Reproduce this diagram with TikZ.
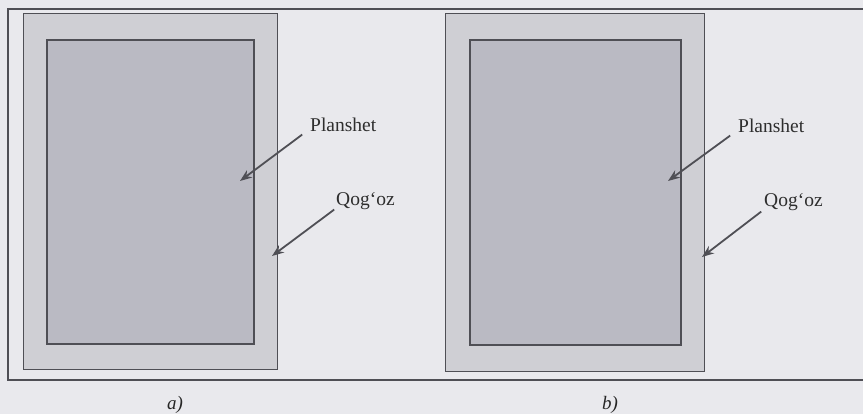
\documentclass[tikz,border=0pt]{standalone}
\usepackage{fontspec}
\setmainfont{Liberation Serif}
\usetikzlibrary{arrows.meta}
\definecolor{bgcol}{HTML}{E9E9ED}
\definecolor{papercol}{HTML}{CFCFD4}
\definecolor{tabcol}{HTML}{BABAC3}
\definecolor{inkcol}{HTML}{4F4F55}
\begin{document}
\begin{tikzpicture}[x=1pt,y=-1pt,
  frame/.style={draw=inkcol, line width=1.2pt},
  paper/.style={draw=inkcol, fill=papercol, line width=1pt},
  tablet/.style={draw=inkcol, fill=tabcol, line width=1.4pt},
  lbl/.style={font=\fontsize{19.5}{22}\selectfont, text=black!82, inner sep=0pt, anchor=base west},
  sublbl/.style={font=\itshape\fontsize{19}{22}\selectfont, text=black!85, inner sep=0pt, anchor=base},
  arr/.style={-{Stealth[length=12pt,width=9pt]}, line width=1.8pt, draw=inkcol, shorten <=1pt},
]
\fill[bgcol] (0,0) rectangle (863,414);
\useasboundingbox (0,0) rectangle (863,414);
\draw[frame] (870,9) -- (8,9) -- (8,380) -- (870,380);
% panel a
\draw[paper] (23,14) rectangle (277,370);
\draw[tablet] (47,40) rectangle (254,344);
\node[lbl] (pa) at (310,132) {Planshet};
\node[lbl] (qa) at (336,206) {Qog‘oz};
\coordinate (pta) at (240,181);
\coordinate (qta) at (272,256);
\draw[arr] (303,134) -- (pta);
\draw[arr] (335,209) -- (qta);
\node[sublbl] (ca) at (175,409) {a)};
% panel b
\draw[paper] (445,14) rectangle (704,372);
\draw[tablet] (470,40) rectangle (681,345);
\node[lbl] (pb) at (738,133) {Planshet};
\node[lbl] (qb) at (764,207) {Qog‘oz};
\coordinate (ptb) at (668,181);
\coordinate (qtb) at (702,257);
\draw[arr] (731,135) -- (ptb);
\draw[arr] (762,211) -- (qtb);
\node[sublbl] (cb) at (610,409) {b)};
\end{tikzpicture}
\end{document}
